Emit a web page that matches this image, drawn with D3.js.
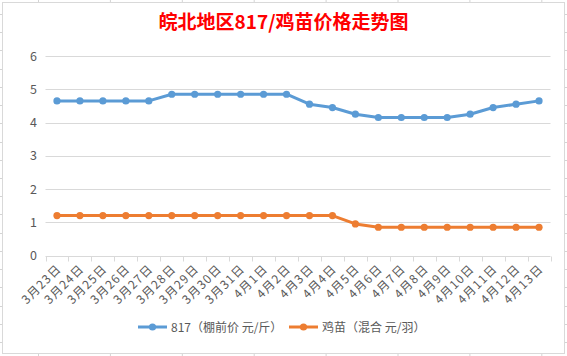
<!DOCTYPE html>
<html><head><meta charset="utf-8">
<script src="https://cdn.jsdelivr.net/npm/d3@7"></script>
<style>body{margin:0;background:#fff}svg{display:block}text{font-family:"Noto Sans CJK SC","Microsoft YaHei",sans-serif}</style>
</head><body>
<svg id="c" width="567" height="356"></svg>
<script>
const categories = ["3月23日","3月24日","3月25日","3月26日","3月27日","3月28日","3月29日","3月30日","3月31日","4月1日","4月2日","4月3日","4月4日","4月5日","4月6日","4月7日","4月8日","4月9日","4月10日","4月11日","4月12日","4月13日"];
const price817 = [4.65,4.65,4.65,4.65,4.65,4.85,4.85,4.85,4.85,4.85,4.85,4.55,4.45,4.25,4.15,4.15,4.15,4.15,4.25,4.45,4.55,4.65];
const chickPrice = [1.2,1.2,1.2,1.2,1.2,1.2,1.2,1.2,1.2,1.2,1.2,1.2,1.2,0.95,0.85,0.85,0.85,0.85,0.85,0.85,0.85,0.85];
const yTicks = [0,1,2,3,4,5,6];
const seriesNames = ["817（棚前价 元/斤）","鸡苗（混合 元/羽）"];
const colors = ["#5B9BD5","#ED7D31"];
const title = "皖北地区817/鸡苗价格走势图";

const svg = d3.select("#c");
// spreadsheet cell grid peeking outside the chart frame
const colX = d3.range(8).map(k => 38 + k*71.9);
const rowY = d3.range(19).map(k => 14 + k*18.22);
const g0 = svg.append("g").attr("stroke","#d4d4d4").attr("stroke-width",1);
colX.forEach(x => { g0.append("line").attr("x1",x+0.5).attr("x2",x+0.5).attr("y1",0).attr("y2",2);
  g0.append("line").attr("x1",x+0.5).attr("x2",x+0.5).attr("y1",354).attr("y2",356); });
rowY.forEach(y => { g0.append("line").attr("x1",0).attr("x2",2).attr("y1",Math.round(y)+0.5).attr("y2",Math.round(y)+0.5);
  g0.append("line").attr("x1",565).attr("x2",567).attr("y1",Math.round(y)+0.5).attr("y2",Math.round(y)+0.5); });
svg.append("rect").attr("x",2.5).attr("y",2.5).attr("width",562).attr("height",351)
  .attr("fill","#fff").attr("stroke","#d9d9d9");

svg.append("text").attr("x",283.5).attr("y",29).attr("text-anchor","middle")
  .attr("font-size",19).attr("font-weight","bold").attr("fill","#FF0000").text(title);

const x = d3.scaleBand().domain(categories).range([45.5,550.5]);
const y = d3.scaleLinear().domain([0,6]).range([255.5,56]);

// gridlines
svg.append("g").selectAll("line").data(yTicks.filter(d=>d>0)).join("line")
  .attr("x1",45.5).attr("x2",550.5).attr("y1",d=>Math.round(y(d))+0.5).attr("y2",d=>Math.round(y(d))+0.5)
  .attr("stroke","#d9d9d9");

// y axis labels
const ya = svg.append("g").attr("transform","translate(37,0)")
  .call(d3.axisLeft(y).tickValues(yTicks).tickFormat(d3.format("d")).tickSize(0).tickPadding(0));
ya.select(".domain").remove();
ya.selectAll("text").attr("font-size",12.5).attr("fill","#595959").attr("font-family","'Noto Sans CJK SC',sans-serif");

// x axis
const xa = svg.append("g").attr("transform",`translate(0,${Math.round(y(0))+0.5})`)
  .call(d3.axisBottom(x).tickSize(0).tickPadding(0));
xa.select(".domain").attr("stroke","#d9d9d9").attr("d","M45.5,0H550.5");
const bounds = categories.map(c => x(c)).concat([x(categories[categories.length-1]) + x.bandwidth()]);
xa.append("g").selectAll("line").data(bounds).join("line")
  .attr("x1",d=>Math.round(d)+0.5).attr("x2",d=>Math.round(d)+0.5).attr("y1",0).attr("y2",5).attr("stroke","#d9d9d9");
xa.selectAll(".tick text").attr("font-size",12).attr("fill","#595959")
  .attr("font-family","'Noto Sans CJK SC',sans-serif")
  .attr("letter-spacing","1.2px")
  .attr("text-anchor","end").attr("dy",0)
  .attr("transform","translate(5,13) rotate(-45)");

// lines
const cx = d => x(d) + x.bandwidth()/2;
[price817, chickPrice].forEach((vals,i) => {
  const pts = categories.map((c,j)=>[cx(c), y(vals[j])]);
  svg.append("path").attr("d", d3.line()(pts)).attr("fill","none")
    .attr("stroke",colors[i]).attr("stroke-width",3).attr("stroke-linejoin","round");
  svg.append("g").selectAll("circle").data(pts).join("circle")
    .attr("cx",d=>d[0]).attr("cy",d=>d[1]).attr("r",3.6).attr("fill",colors[i]);
});

// legend
const legX = [138, 289];
seriesNames.forEach((n,i) => {
  const lg = svg.append("g").attr("transform",`translate(${legX[i]},327)`);
  lg.append("line").attr("x1",0).attr("x2",29).attr("y1",0).attr("y2",0).attr("stroke",colors[i]).attr("stroke-width",3);
  lg.append("circle").attr("cx",14.5).attr("cy",0).attr("r",3.6).attr("fill",colors[i]);
  lg.append("text").attr("x",33).attr("y",4.5).attr("font-size",12).attr("fill","#595959").text(n);
});
</script>
</body></html>
